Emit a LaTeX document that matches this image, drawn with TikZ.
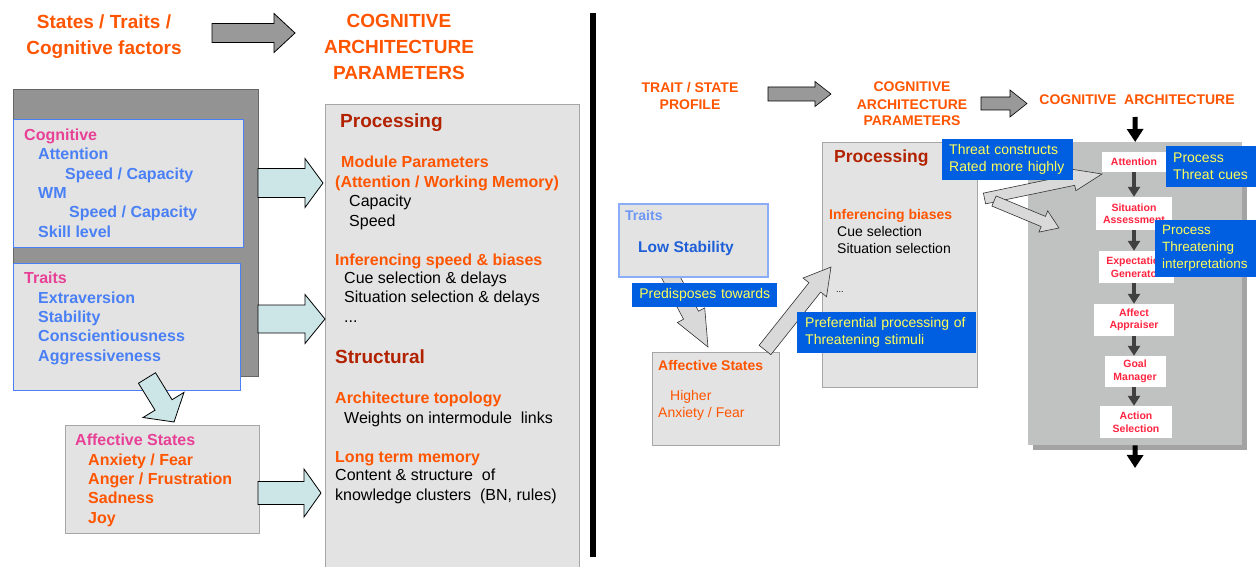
\documentclass[tikz,border=0pt]{standalone}
\usepackage{fontspec}
\setmainfont{Liberation Sans}
\usetikzlibrary{arrows.meta,shadows}
\definecolor{hdorange}{RGB}{255,85,0}
\definecolor{hdred}{RGB}{178,34,0}
\definecolor{catpink}{RGB}{232,64,150}
\definecolor{lstblue}{RGB}{74,128,245}
\definecolor{boxgray}{RGB}{227,227,227}
\definecolor{darkbox}{RGB}{147,147,147}
\definecolor{paleblue}{RGB}{204,230,232}
\definecolor{tagblue}{RGB}{0,94,224}
\definecolor{tagyellow}{RGB}{255,255,90}
\definecolor{modred}{RGB}{255,36,64}
\definecolor{archgray}{RGB}{192,193,193}
\definecolor{shadowgray}{RGB}{163,163,163}
\definecolor{stabblue}{RGB}{30,95,216}
\definecolor{trtblue}{RGB}{110,151,245}
\newcommand{\fsz}[2]{\fontsize{#1}{#2}\selectfont}
\newcommand{\fatarrow}[6][]{%
	\path(#2);\pgfgetlastxy{\fax}{\fay}
	\path(#3);\pgfgetlastxy{\fbx}{\fby}
	\pgfmathsetmacro{\faang}{atan2(\fby-\fay,\fbx-\fax)}
	\pgfmathsetmacro{\falen}{veclen(\fbx-\fax,\fby-\fay)}
	\pgfmathsetmacro{\fab}{\falen-#6}
	\pgfmathsetmacro{\faw}{#4/2}
	\pgfmathsetmacro{\fah}{#5/2}
	\begin{scope}[shift={(\fax,\fay)},rotate=\faang]
		\draw[#1](0pt,\faw pt)--(\fab pt,\faw pt)--(\fab pt,\fah pt)--(\falen pt,0pt)
			--(\fab pt,-\fah pt)--(\fab pt,-\faw pt)--(0pt,-\faw pt)--cycle;
	\end{scope}}

\begin{document}
\begin{tikzpicture}[x=1pt,y=-1pt,
	pane/.style={anchor=north west,inner sep=0pt,fill=boxgray,draw=gray!75},
	hd/.style={font=\bfseries\fsz{19}{26},text=hdorange,align=center,anchor=base,inner sep=0pt},
	rhd/.style={font=\bfseries\fsz{14}{17},text=hdorange,align=center,anchor=base,inner sep=0pt},
	lst/.style={font=\bfseries\fsz{16}{19.3},align=left,anchor=base west,inner sep=0pt},
	sec/.style={font=\bfseries\fsz{19}{23},text=hdred,anchor=base west,inner sep=0pt},
	sub/.style={font=\bfseries\fsz{16}{19.3},text=hdorange,align=left,anchor=base west,inner sep=0pt},
	itm/.style={font=\fsz{16}{19.3},align=left,anchor=base west,inner sep=0pt},
	rtxt/.style={font=\fsz{14}{17},align=left,anchor=base west,inner sep=0pt},
	tag/.style={fill=tagblue,text=tagyellow,font=\fsz{14}{17},align=left,anchor=north west,inner xsep=7pt,inner ysep=0pt},
	modbox/.style={fill=white,text=modred,font=\bfseries\fsz{10.5}{12.5},align=center,inner sep=0pt},
	modarr/.style={draw=black!75,line width=4pt,-{Triangle[width=12pt,length=10pt]}},
	bigarr/.style={line width=5pt,-{Triangle[width=16pt,length=13pt]}},
	fatgray/.style={fill=black!40,draw=black,line width=0.8pt},
	fatcyan/.style={fill=paleblue,draw=black,line width=0.8pt},
	fatlight/.style={fill=black!15,draw=black!80,line width=0.6pt}]
	\useasboundingbox[fill=white](0,0)rectangle(1256,567);

	\node[hd](lhead)at(104,55){States / Traits /\\Cognitive factors};
	\node[hd](phead)at(399,80){COGNITIVE\\ARCHITECTURE\\PARAMETERS};
	\coordinate(g1s)at(212,33);
	\coordinate(g1e)at(295,33);
	\fatarrow[fatgray]{g1s}{g1e}{19}{39}{21}

	\node[pane,fill=darkbox,draw=black!60,minimum width=245,minimum height=287](dark)at(13,89){};
	\node[pane,draw=lstblue,minimum width=230,minimum height=128](cogbox)at(13,119){};
	\node[pane,draw=lstblue,minimum width=227,minimum height=127](trtbox)at(13,263){};
	\node[pane,draw=gray!70,minimum width=194,minimum height=108](affbox)at(65,425){};
	\node[pane,draw=gray!70,minimum width=254,minimum height=480](parbox)at(325,104){};

	\node[lst,text=lstblue](cogT)at(24,237){\textcolor{catpink}{Cognitive}\\\hspace*{14pt}Attention\\
		\hspace*{41pt}Speed / Capacity\\\hspace*{14pt}WM\\\hspace*{45pt}Speed / Capacity\\\hspace*{14pt}Skill level};
	\node[lst,text=lstblue](trtT)at(24,361){\textcolor{catpink}{Traits}\\\hspace*{14pt}Extraversion\\
		\hspace*{14pt}Stability\\\hspace*{14pt}Conscientiousness\\\hspace*{14pt}Aggressiveness};
	\node[lst,text=hdorange](affT)at(75,523){\textcolor{catpink}{Affective States}\\\hspace*{13pt}Anxiety / Fear\\
		\hspace*{13pt}Anger / Frustration\\\hspace*{13pt}Sadness\\\hspace*{13pt}Joy};

	\coordinate(c1s)at(258,183);
	\coordinate(c1e)at(323,183);
	\coordinate(c2s)at(258,319);
	\coordinate(c2e)at(325,319);
	\coordinate(c3s)at(147,378);
	\coordinate(c3e)at(174,422);
	\coordinate(c4s)at(258,493);
	\coordinate(c4e)at(321,493);
	\fatarrow[fatcyan]{c1s}{c1e}{29}{49}{18}
	\fatarrow[fatcyan]{c2s}{c2e}{28}{49}{20}
	\fatarrow[fatcyan]{c3s}{c3e}{20}{48}{20}
	\fatarrow[fatcyan]{c4s}{c4e}{23}{48}{17}

	\node[sec](procT)at(340,128){Processing};
	\node[sub](modT)at(335,187){\hspace*{6pt}Module Parameters\\(Attention / Working Memory)};
	\node[itm](modL)at(349,226){Capacity\\Speed};
	\node[sub](infT)at(335,265){Inferencing speed \& biases};
	\node[itm](infL)at(344,322){Cue selection \& delays\\Situation selection \& delays\\...};
	\node[sec](strT)at(335,363){Structural};
	\node[sub](topT)at(335,403){Architecture topology};
	\node[itm](topL)at(344,423){Weights on intermodule\ \ links};
	\node[sub](ltmT)at(335,462){Long term memory};
	\node[itm](ltmL)at(335,500){Content \& structure\ \ of\\knowledge clusters\ \ (BN, rules)};

	\draw[line width=6pt](593,13)--(593,557);

	\node[rhd](tsT)at(690,110){TRAIT / STATE\\PROFILE};
	\node[rhd](capT)at(912,126){COGNITIVE\\ARCHITECTURE\\PARAMETERS};
	\node[rhd](carT)at(1137,105){COGNITIVE\ \ ARCHITECTURE};
	\coordinate(g2s)at(768,94);
	\coordinate(g2e)at(831,94);
	\coordinate(g3s)at(981,103.5);
	\coordinate(g3e)at(1027,103.5);
	\fatarrow[fatgray,line width=0.6pt]{g2s}{g2e}{14}{25}{16}
	\fatarrow[fatgray,line width=0.6pt]{g3s}{g3e}{13}{27}{17}

	\coordinate(r1s)at(668,272);
	\coordinate(r1e)at(708,347);
	\fatarrow[fatlight]{r1s}{r1e}{17}{31}{36}
	\node[pane,draw=trtblue!80,line width=1.5pt,minimum width=149,minimum height=73](rtrt)at(618,203){};
	\node[pane,draw=gray!70,minimum width=127,minimum height=93](raff)at(652,352){};
	\node[pane,draw=gray!70,minimum width=155,minimum height=245](rproc)at(822,142){};
	\node[pane,fill=archgray,draw=none,minimum width=214,minimum height=303,
		drop shadow={shadow xshift=5pt,shadow yshift=-5pt,fill=shadowgray,opacity=1}](arch)at(1028,142){};

	\node[lst,font=\bfseries\fsz{14}{17},text=trtblue](rtrtT)at(625,220){Traits};
	\node[lst,font=\bfseries\fsz{15.5}{19},text=stabblue](lowT)at(638,252){Low Stability};
	\node[lst,font=\bfseries\fsz{14}{17},text=hdorange](raffT)at(658,370){Affective States};
	\node[rtxt,text=hdorange](raffL)at(658,417){\hspace*{12pt}Higher\\Anxiety / Fear};
	\node[sec,font=\bfseries\fsz{17.5}{21}](rprocT)at(834,163){Processing};
	\node[lst,font=\bfseries\fsz{14}{17},text=hdorange](rinfT)at(829,219){Inferencing biases};
	\node[rtxt](rinfL)at(837,253){Cue selection\\Situation selection};
	\node[rtxt,font=\fsz{9}{11}](rdots)at(836,292){...};

	\coordinate(r2s)at(765,350);
	\coordinate(r2e)at(831,267);
	\fatarrow[fatlight]{r2s}{r2e}{15}{30}{26}

	\node[modbox,minimum width=64,minimum height=20](attn)at(1134,162){Attention};
	\node[modbox,minimum width=76,minimum height=33](sitn)at(1134,213.5){Situation\\Assessment};
	\node[modbox,minimum width=75,minimum height=32](expn)at(1136,267){Expectation\\Generator};
	\node[modbox,minimum width=80,minimum height=32](affn)at(1134,320){Affect\\Appraiser};
	\node[modbox,minimum width=61,minimum height=31](goaln)at(1135,371.5){Goal\\Manager};
	\node[modbox,minimum width=72,minimum height=32](actn)at(1136,422){Action\\Selection};
	\draw[modarr](attn.south)--(attn.south|-sitn.north);
	\draw[modarr](sitn.south)--(sitn.south|-expn.north);
	\draw[modarr](expn.south-|sitn.south)--(sitn.south|-affn.north);
	\draw[modarr](affn.south)--(affn.south|-goaln.north);
	\draw[modarr](goaln.south-|affn.south)--(affn.south|-actn.north);
	\coordinate(archin)at(1135,117);
	\coordinate(archout)at(1135,468);
	\draw[bigarr](archin)--(arch.north);
	\draw[bigarr](arch.south)--(archout);

	\coordinate(r3s)at(984.5,198.5);
	\coordinate(r3e)at(1102,174);
	\coordinate(r4s)at(994,201);
	\coordinate(r4e)at(1059,228);
	\fatarrow[fatlight]{r3s}{r3e}{11}{22}{29}
	\fatarrow[fatlight]{r4s}{r4e}{11}{23}{17}

	\node[tag,text width=117,minimum height=41](threat)at(942,139){Threat constructs\\Rated more highly};
	\node[tag,text width=76,minimum height=41](cues)at(1166,146){Process\\Threat cues};
	\node[tag,font=\fsz{13.5}{17},text width=87,minimum height=57](interp)at(1155,220){Process\\Threatening\\interpretations};
	\node[tag,align=center,text width=131,minimum height=24](predisp)at(632,283){Predisposes towards};
	\node[tag,inner xsep=8pt,text width=163,minimum height=41](pref)at(797,312){Preferential processing of\\Threatening stimuli};
\end{tikzpicture}
\end{document}
